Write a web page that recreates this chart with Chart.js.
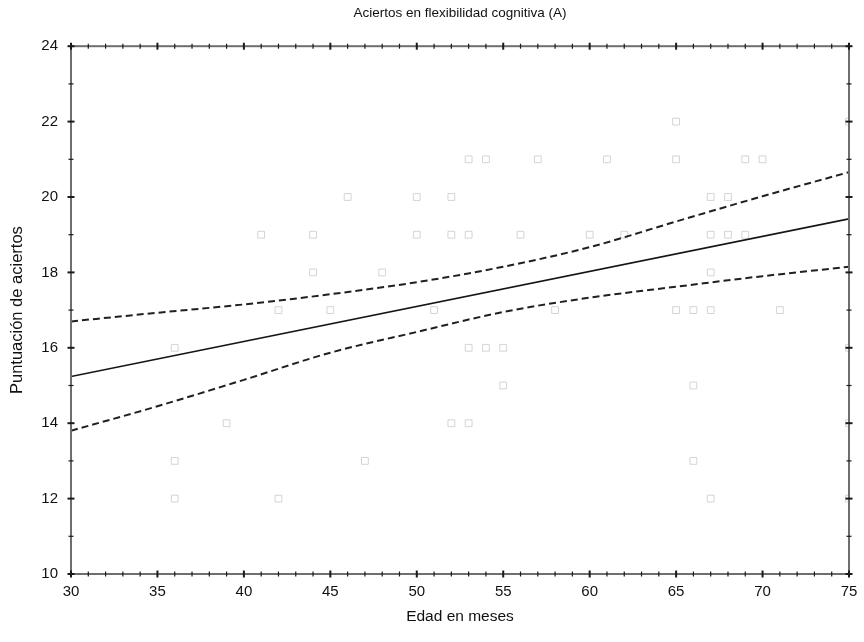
<!DOCTYPE html>
<html>
<head>
<meta charset="utf-8">
<title>Aciertos en flexibilidad cognitiva (A)</title>
<script src="https://cdn.jsdelivr.net/npm/chart.js@4.4.1/dist/chart.umd.min.js"></script>
<style>
  html, body { margin: 0; padding: 0; background: #fff; }
  #wrap { width: 864px; height: 642px; }
</style>
</head>
<body>
<div id="wrap"><canvas id="chart" width="864" height="642"></canvas></div>
<script>
// Observations: age in months and correct answers
const ages   = [36, 36, 36, 39, 41, 42, 42, 44, 44, 45, 46, 47, 48, 50, 50, 51, 52, 52, 52,
                53, 53, 53, 53, 54, 54, 55, 55, 56, 57, 58, 60, 61, 62, 65, 65, 65, 66, 66,
                66, 67, 67, 67, 67, 67, 68, 68, 69, 69, 70, 71, 75, 75, 75, 75];
const scores = [16, 13, 12, 14, 19, 17, 12, 19, 18, 17, 20, 13, 18, 20, 19, 17, 20, 19, 14,
                21, 19, 16, 14, 21, 16, 16, 15, 19, 21, 17, 19, 21, 19, 22, 21, 17, 17, 15,
                13, 20, 19, 18, 17, 12, 20, 19, 19, 21, 21, 17, 22, 16, 14, 12];

// Fitted regression line (end points)
const fitX = [30, 75];
const fitY = [15.24, 19.42];

// 95% confidence band around the fit
const bandX     = [30, 35, 40, 45, 50, 55, 60, 65, 70, 75];
const upperBand = [16.70, 16.93, 17.15, 17.42, 17.74, 18.15, 18.67, 19.35, 20.02, 20.66];
const lowerBand = [13.80, 14.45, 15.15, 15.87, 16.42, 16.95, 17.33, 17.62, 17.90, 18.15];

// Axis ticks
const xTicks = [30, 35, 40, 45, 50, 55, 60, 65, 70, 75];
const yTicks = [10, 12, 14, 16, 18, 20, 22, 24];

const FONT = '"Liberation Sans", Arial, Helvetica, sans-serif';

const toPoints = (xs, ys) => xs.map((x, i) => ({ x: x, y: ys[i] }));

// Box frame with major and minor tick marks on all four sides
const framePlugin = {
  id: 'frame',
  afterDatasetsDraw(chart) {
    const { ctx, chartArea: a, scales: { x, y } } = chart;
    ctx.save();
    ctx.strokeStyle = '#6e6e6e';
    ctx.lineWidth = 2;
    ctx.strokeRect(a.left, a.top, a.right - a.left, a.bottom - a.top);

    ctx.strokeStyle = '#1a1a1a';
    const tick = (x1, y1, x2, y2, w) => {
      ctx.lineWidth = w;
      ctx.beginPath();
      ctx.moveTo(x1, y1);
      ctx.lineTo(x2, y2);
      ctx.stroke();
    };
    for (let v = x.min; v <= x.max; v += 1) {
      const px = x.getPixelForValue(v);
      const major = xTicks.includes(v);
      const h = major ? 3.5 : 2.5;
      const w = major ? 2 : 1.2;
      tick(px, a.bottom - h, px, a.bottom + h, w);
      tick(px, a.top - h, px, a.top + h, w);
    }
    for (let v = y.min; v <= y.max; v += 1) {
      const py = y.getPixelForValue(v);
      const major = yTicks.includes(v);
      const h = major ? 3.5 : 2.5;
      const w = major ? 2 : 1.2;
      tick(a.left - h, py, a.left + h, py, w);
      tick(a.right - h, py, a.right + h, py, w);
    }
    ctx.restore();
  }
};

new Chart(document.getElementById('chart'), {
  type: 'scatter',
  data: {
    datasets: [
      {
        label: 'Observaciones',
        data: toPoints(ages, scores),
        pointStyle: 'rect',
        pointRadius: 4.8,
        borderWidth: 1,
        borderColor: '#d4d4d4',
        backgroundColor: 'rgba(0,0,0,0)',
        showLine: false,
        order: 4
      },
      {
        label: 'Ajuste',
        data: toPoints(fitX, fitY),
        showLine: true,
        borderColor: '#151515',
        borderWidth: 1.6,
        pointRadius: 0,
        fill: false,
        order: 1
      },
      {
        label: 'IC superior',
        data: toPoints(bandX, upperBand),
        showLine: true,
        borderColor: '#202020',
        borderWidth: 2,
        borderDash: [7, 4],
        cubicInterpolationMode: 'monotone',
        pointRadius: 0,
        fill: false,
        order: 2
      },
      {
        label: 'IC inferior',
        data: toPoints(bandX, lowerBand),
        showLine: true,
        borderColor: '#202020',
        borderWidth: 2,
        borderDash: [7, 4],
        cubicInterpolationMode: 'monotone',
        pointRadius: 0,
        fill: false,
        order: 3
      }
    ]
  },
  options: {
    responsive: false,
    animation: false,
    events: [],
    layout: { padding: { top: 0, right: 15, bottom: 0, left: 0 } },
    plugins: {
      legend: { display: false },
      tooltip: { enabled: false },
      title: {
        display: true,
        text: 'Aciertos en flexibilidad cognitiva (A)',
        fullSize: false,
        color: '#111',
        font: { family: FONT, size: 13.5, weight: 'normal' },
        padding: { top: 5, bottom: 25 }
      }
    },
    scales: {
      x: {
        type: 'linear',
        min: 30,
        max: 75,
        afterBuildTicks: (s) => { s.ticks = xTicks.map(v => ({ value: v })); },
        afterFit: (s) => { s.height = 68; s.paddingLeft = 0; s.paddingRight = 0; },
        grid: { display: false, drawTicks: false },
        border: { display: false },
        ticks: { color: '#111', padding: 9, font: { family: FONT, size: 15 } },
        title: {
          display: true,
          text: 'Edad en meses',
          color: '#111',
          font: { family: FONT, size: 15.5 },
          padding: { top: 0, bottom: 15.5 }
        }
      },
      y: {
        type: 'linear',
        min: 10,
        max: 24,
        afterBuildTicks: (s) => { s.ticks = yTicks.map(v => ({ value: v })); },
        afterFit: (s) => { s.width = 71; s.paddingTop = 0; s.paddingBottom = 0; },
        grid: { display: false, drawTicks: false },
        border: { display: false },
        ticks: { color: '#111', padding: 13, font: { family: FONT, size: 15 } },
        title: {
          display: true,
          text: 'Puntuación de aciertos',
          color: '#111',
          font: { family: FONT, size: 16.5 },
          padding: { top: 8, bottom: 0 }
        }
      }
    }
  },
  plugins: [framePlugin]
});
</script>
</body>
</html>
